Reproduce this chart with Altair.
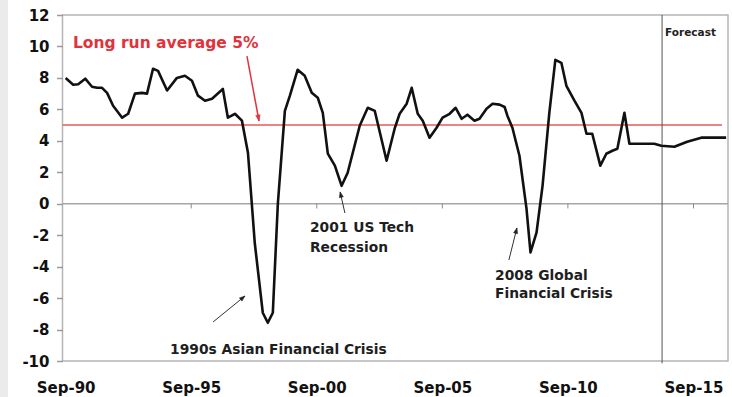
import math
import altair as alt
import pandas as pd

# ---------------- data ----------------
YEARS = [1990.75, 1991.05, 1991.25, 1991.53, 1991.80, 1992.00, 1992.20, 1992.40, 1992.64, 1993.00,
         1993.24, 1993.51, 1993.79, 1993.99, 1994.23, 1994.43, 1994.79, 1995.18, 1995.50, 1995.78,
         1996.02, 1996.30, 1996.58, 1997.01, 1997.21, 1997.49, 1997.77, 1998.01, 1998.28, 1998.60,
         1998.80, 1999.00, 1999.20, 1999.48, 1999.68, 1999.99, 2000.27, 2000.55, 2000.79, 2000.99,
         2001.19, 2001.47, 2001.74, 2001.98, 2002.46, 2002.78, 2003.06, 2003.53, 2003.85, 2004.05,
         2004.33, 2004.53, 2004.77, 2004.97, 2005.24, 2005.52, 2005.76, 2006.04, 2006.28, 2006.52,
         2006.75, 2007.03, 2007.23, 2007.51, 2007.75, 2008.03, 2008.23, 2008.34, 2008.54, 2008.82,
         2009.10, 2009.26, 2009.50, 2009.74, 2010.01, 2010.25, 2010.49, 2010.69, 2011.01, 2011.29,
         2011.49, 2011.72, 2012.04, 2012.28, 2012.52, 2012.72, 2013.00, 2013.20, 2014.19, 2014.47,
         2014.99, 2015.50, 2016.06, 2017.05]
GROWTH = [8.0, 7.57, 7.6, 7.95, 7.44, 7.37, 7.37, 7.05, 6.23, 5.47,
          5.72, 7.0, 7.05, 7.0, 8.58, 8.45, 7.2, 8.0, 8.14, 7.82,
          6.87, 6.55, 6.68, 7.3, 5.47, 5.72, 5.28, 3.24, -2.48, -6.93,
          -7.57, -6.93, 0.0, 5.9, 6.87, 8.52, 8.14, 7.05, 6.74, 5.78,
          3.18, 2.42, 1.14, 1.97, 4.96, 6.1, 5.9, 2.73, 4.77, 5.72,
          6.36, 7.37, 5.72, 5.28, 4.2, 4.83, 5.47, 5.72, 6.1, 5.4,
          5.66, 5.28, 5.4, 6.04, 6.36, 6.3, 6.15, 5.6, 4.83, 3.05,
          -0.3, -3.1, -1.84, 1.14, 5.78, 9.15, 8.96, 7.5, 6.55, 5.78,
          4.45, 4.45, 2.42, 3.18, 3.37, 3.5, 5.78, 3.81, 3.81, 3.69,
          3.62, 3.94, 4.2, 4.2]

X_DOMAIN = [1990.625, 2017.125]
Y_DOMAIN = [-10, 12]
TICK_YEARS = [1990.75, 1995.75, 2000.75, 2005.75, 2010.75, 2015.75]
Y_TICKS = list(range(-10, 13, 2))
ZERO_TICK_YEARS = [1995.75, 2000.75, 2005.75, 2010.75, 2015.75]

LONG_RUN_AVG = 5
AVG_LINE_END = 2016.89
FORECAST_START = 2014.5

# annotation texts (year, value at baseline)
LABEL_TEXT = ["2001 US Tech", "Recession", "2008 Global", "Financial Crisis",
              "1990s Asian Financial Crisis"]
LABEL_X = [2000.48, 2000.48, 2007.85, 2007.85, 1994.91]
LABEL_Y = [-1.80, -3.07, -4.85, -6.00, -9.56]

AVG_TEXT = "Long run average 5%"
AVG_TEXT_X, AVG_TEXT_Y = 1991.04, 9.90
FORECAST_TEXT = "Forecast"
FORECAST_TEXT_X, FORECAST_TEXT_Y = 2014.62, 10.66

# arrows: start -> tip
ARROW_X1 = [1996.62, 2001.87, 2008.40]
ARROW_Y1 = [-7.52, -0.59, -3.58]
ARROW_X2 = [1997.89, 2001.68, 2008.72]
ARROW_Y2 = [-5.87, 0.75, -1.54]
RED_ARROW = dict(x1=1997.97, y1=9.39, x2=1998.45, y2=5.26)

# ---------------- layout ----------------
W, H = 665.5, 346
PAD = {"left": 62.5, "top": 15, "right": 4, "bottom": 36}
PX_PER_X = W / (X_DOMAIN[1] - X_DOMAIN[0])
PX_PER_Y = H / (Y_DOMAIN[1] - Y_DOMAIN[0])
FONT = "DejaVu Sans"
RED = "#e2323c"


def head_angle(x1, y1, x2, y2):
    dx = (x2 - x1) * PX_PER_X
    dy = -(y2 - y1) * PX_PER_Y
    return math.degrees(math.atan2(dx, -dy)) % 360


ARROW_HEAD = "M0,0L0.75,2L-0.75,2Z"

df = pd.DataFrame({"year": YEARS, "growth": GROWTH})
arrows = pd.DataFrame({"x1": ARROW_X1, "y1": ARROW_Y1, "x2": ARROW_X2, "y2": ARROW_Y2})
arrows["angle"] = [head_angle(a, b, c, d) for a, b, c, d in zip(ARROW_X1, ARROW_Y1, ARROW_X2, ARROW_Y2)]
red_arrow = pd.DataFrame([RED_ARROW])
red_arrow["angle"] = [head_angle(RED_ARROW["x1"], RED_ARROW["y1"], RED_ARROW["x2"], RED_ARROW["y2"])]
labels = pd.DataFrame({"text": LABEL_TEXT, "x": LABEL_X, "y": LABEL_Y})
zero_ticks = pd.DataFrame({"year": ZERO_TICK_YEARS})

xscale = alt.Scale(domain=X_DOMAIN, nice=False, zero=False)
yscale = alt.Scale(domain=Y_DOMAIN, nice=False, zero=False)
one = alt.Data(values=[{}])

XAXIS = alt.Axis(values=TICK_YEARS, title=None, grid=False, domain=False, ticks=False,
                 labelExpr="'Sep-' + slice(toString(floor(datum.value)), 2)",
                 labelPadding=19, labelFontSize=15, labelFontWeight="bold",
                 labelColor="#111111", labelFont=FONT, labelFlush=False, labelOverlap=False)
YAXIS = alt.Axis(values=Y_TICKS, title=None, grid=False, domain=False, ticks=True,
                 tickSize=6, tickColor="#9a9a9a", tickWidth=1.5, labelPadding=7.5,
                 labelExpr="toString(datum.value)",
                 labelFontSize=15, labelFontWeight="bold", labelColor="#111111",
                 labelFont=FONT, labelFlush=False, labelOverlap=False)


def X(f):
    return alt.X(f, scale=xscale, axis=XAXIS, title=None)


def Y(f):
    return alt.Y(f, scale=yscale, axis=YAXIS, title=None)


def XD(v):
    return alt.XDatum(v, scale=xscale, axis=XAXIS, title=None)


def YD(v):
    return alt.YDatum(v, scale=yscale, axis=YAXIS, title=None)


strip = alt.Chart(one).mark_rect(color="#ebebeb").encode(
    x=alt.value(-PAD["left"]), x2=alt.value(-PAD["left"] + 8),
    y=alt.value(-PAD["top"]), y2=alt.value(H + PAD["bottom"]))

zero_line = alt.Chart(one).mark_rule(color="#a6a6a6", strokeWidth=1.5).encode(y=YD(0))

zero_tick_marks = alt.Chart(zero_ticks).mark_rule(color="#8c8c8c", strokeWidth=1).encode(
    x=X("year:Q"), y=YD(0), y2=alt.Y2Datum(-0.3))

avg_line = alt.Chart(one).mark_rule(color="#e85a5a", strokeWidth=1.5).encode(
    x=XD(X_DOMAIN[0]), x2=alt.X2Datum(AVG_LINE_END), y=YD(LONG_RUN_AVG))

forecast_line = alt.Chart(one).mark_rule(color="#555555", strokeWidth=1).encode(
    x=XD(FORECAST_START), y=YD(Y_DOMAIN[1]), y2=alt.Y2Datum(Y_DOMAIN[0] - 0.15))

line = alt.Chart(df).mark_line(color="#111111", strokeWidth=2.6, strokeJoin="round").encode(
    x=X("year:Q"), y=Y("growth:Q"))

arrow_lines = alt.Chart(arrows).mark_rule(color="#333333", strokeWidth=1).encode(
    x=X("x1:Q"), y=Y("y1:Q"), x2="x2:Q", y2="y2:Q")
arrow_heads = alt.Chart(arrows).mark_point(shape=ARROW_HEAD, filled=True, fill="#222222",
                                           stroke="#222222", strokeWidth=0.5,
                                           size=30, opacity=1).encode(
    x=X("x2:Q"), y=Y("y2:Q"), angle=alt.Angle("angle:Q", scale=None))

red_line = alt.Chart(red_arrow).mark_rule(color=RED, strokeWidth=1.5).encode(
    x=X("x1:Q"), y=Y("y1:Q"), x2="x2:Q", y2="y2:Q")
red_head = alt.Chart(red_arrow).mark_point(shape=ARROW_HEAD, filled=True, fill=RED,
                                           stroke=RED, strokeWidth=0.5,
                                           size=36, opacity=1).encode(
    x=X("x2:Q"), y=Y("y2:Q"), angle=alt.Angle("angle:Q", scale=None))

label_marks = alt.Chart(labels).mark_text(align="left", baseline="alphabetic", font=FONT,
                                          fontSize=13.8, fontWeight="bold", color="#1e1e1e").encode(
    x=X("x:Q"), y=Y("y:Q"), text="text:N")

avg_text = alt.Chart(one).mark_text(align="left", baseline="alphabetic", font=FONT, fontSize=15.5,
                                    fontWeight="bold", color=RED).encode(
    x=XD(AVG_TEXT_X), y=YD(AVG_TEXT_Y), text=alt.value(AVG_TEXT))

forecast_text = alt.Chart(one).mark_text(align="left", baseline="alphabetic", font=FONT,
                                         fontSize=10.5, fontWeight="bold", color="#222222").encode(
    x=XD(FORECAST_TEXT_X), y=YD(FORECAST_TEXT_Y), text=alt.value(FORECAST_TEXT))

chart = alt.layer(
    strip, zero_line, zero_tick_marks, avg_line, forecast_line, line,
    arrow_lines, arrow_heads, red_line, red_head, label_marks, avg_text, forecast_text
).properties(
    width=W, height=H, padding=PAD, autosize="none", background="white"
).configure_view(stroke="#b5b5b5", strokeWidth=1.5).configure_axis(labelOverlap=False)

chart.save("out.html", embed_options={"renderer": "svg", "actions": False})
